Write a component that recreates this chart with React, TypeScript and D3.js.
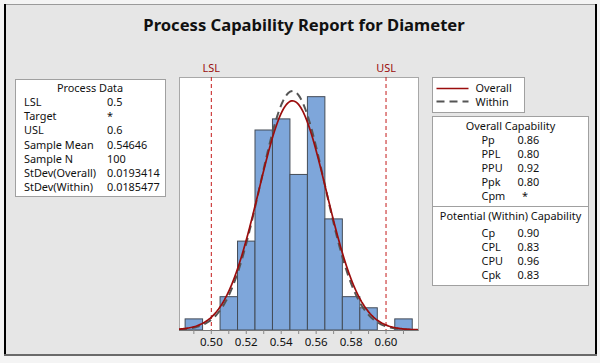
import React from 'react';
import * as d3 from 'd3';

// histogram of Diameter, bins of width 0.01
const binLow = [0.485, 0.505, 0.515, 0.525, 0.535, 0.545, 0.555, 0.565, 0.575, 0.585, 0.605];
const binCount = [1, 3, 8, 18, 19, 14, 21, 10, 3, 2, 1];
const xTicks = [0.5, 0.52, 0.54, 0.56, 0.58, 0.6];
const minorTicks = [0.49, 0.5, 0.51, 0.52, 0.53, 0.54, 0.55, 0.56, 0.57, 0.58, 0.59, 0.6, 0.61];

const lsl = 0.5;
const usl = 0.6;
const mean = 0.54646;
const sdOverall = 0.0193414;
const sdWithin = 0.0185477;
const sampleN = 100;
const binWidth = 0.01;

const processLabels = ['LSL', 'Target', 'USL', 'Sample Mean', 'Sample N', 'StDev(Overall)', 'StDev(Within)'];
const processValues = ['0.5', '*', '0.6', '0.54646', '100', '0.0193414', '0.0185477'];
const overallLabels = ['Pp', 'PPL', 'PPU', 'Ppk', 'Cpm'];
const overallValues = ['0.86', '0.80', '0.92', '0.80', '*'];
const withinLabels = ['Cp', 'CPL', 'CPU', 'Cpk'];
const withinValues = ['0.90', '0.83', '0.96', '0.83'];

const FONT = '"Noto Sans", "Open Sans", sans-serif';
const RED = '#9b0d0d';
const FS = 10.9;

export default function App() {
  const W = 600;
  const H = 363;
  const plot = { left: 179, right: 418, top: 77, bottom: 330 };

  const x = d3.scaleLinear().domain([0.4815, 0.6183]).range([plot.left, plot.right]);
  const y = d3.scaleLinear().domain([0, 22.77]).range([plot.bottom, plot.top]);

  // fitted normal curves scaled to counts per bin
  const pdf = (v: number, sd: number) =>
    (sampleN * binWidth * Math.exp(-0.5 * ((v - mean) / sd) ** 2)) / (sd * Math.sqrt(2 * Math.PI));
  const grid = d3.range(0, 201).map((i) => 0.4815 + (i / 200) * (0.6183 - 0.4815));
  const overallPath = d3
    .line<number>()
    .x((d) => x(d))
    .y((d) => y(pdf(d, sdOverall)))(grid) || '';
  const withinPath = d3
    .line<number>()
    .x((d) => x(d))
    .y((d) => y(pdf(d, sdWithin)))(grid) || '';

  const rowH = 14.2;

  return (
    <svg width={W} height={H} style={{ position: 'absolute', left: 0, top: 0 }} fontFamily={FONT}>
      <rect x={0} y={0} width={W} height={H} fill="#f4f4f4" />
      <rect x={4} y={4} width={593} height={351} fill="#e6e6e6" />
      <line x1={4} y1={4.5} x2={597} y2={4.5} stroke="#9a9a9a" />
      <line x1={5} y1={4} x2={5} y2={356} stroke="#000" strokeWidth={2} />
      <line x1={596} y1={4} x2={596} y2={356} stroke="#000" strokeWidth={2} />
      <line x1={4} y1={355} x2={597} y2={355} stroke="#6a6a6a" strokeWidth={2} />

      <text x={304} y={31} textAnchor="middle" fontSize={16.6} fontWeight="bold" fill="#111">
        Process Capability Report for Diameter
      </text>

      {/* Process data box */}
      <rect x={15.5} y={79.5} width={150} height={117} fill="#fff" stroke="#a0a0a0" />
      <text x={90} y={91.5} textAnchor="middle" fontSize={FS} fill="#111">Process Data</text>
      {processLabels.map((l, i) => (
        <g key={l} fontSize={FS} fill="#111">
          <text x={24} y={106 + i * rowH}>{l}</text>
          <text x={107} y={106 + i * rowH}>{processValues[i]}</text>
        </g>
      ))}

      {/* histogram plot */}
      <rect x={plot.left + 0.5} y={plot.top + 0.5} width={plot.right - plot.left} height={plot.bottom - plot.top} fill="#fff" stroke="#a8a8a8" />
      {binLow.map((b, i) => (
        <rect
          key={b}
          x={x(b)}
          y={y(binCount[i])}
          width={x(b + binWidth) - x(b)}
          height={y(0) - y(binCount[i])}
          fill="#7ea6da"
          stroke="#444c57"
          strokeWidth={1}
        />
      ))}
      {[lsl, usl].map((v) => (
        <line key={v} x1={x(v)} x2={x(v)} y1={plot.top} y2={plot.bottom} stroke="#c41a1a" strokeWidth={1} strokeDasharray="4,3" />
      ))}
      <text x={x(lsl)} y={plot.top - 5} textAnchor="middle" fontSize={FS} fill={RED}>LSL</text>
      <text x={x(usl)} y={plot.top - 5} textAnchor="middle" fontSize={FS} fill={RED}>USL</text>
      <path d={withinPath} fill="none" stroke="#555" strokeWidth={2} strokeDasharray="8,5" />
      <path d={overallPath} fill="none" stroke={RED} strokeWidth={1.7} />

      <line x1={plot.left} x2={plot.right + 0.5} y1={plot.bottom + 0.5} y2={plot.bottom + 0.5} stroke="#777" />
      {minorTicks.map((t) => (
        <line key={t} x1={x(t)} x2={x(t)} y1={plot.bottom} y2={plot.bottom + 4} stroke="#888" />
      ))}
      {xTicks.map((t) => (
        <text key={t} x={x(t)} y={346} textAnchor="middle" fontSize={11.5} fill="#111">
          {d3.format('.2f')(t)}
        </text>
      ))}

      {/* legend */}
      <rect x={432.5} y={77.5} width={92} height={35} fill="#fff" stroke="#a0a0a0" />
      <line x1={436.5} x2={468.5} y1={88.5} y2={88.5} stroke={RED} strokeWidth={1.7} />
      <text x={475.5} y={92} fontSize={FS} fill="#111">Overall</text>
      <line x1={436.5} x2={468.5} y1={101.5} y2={101.5} stroke="#555" strokeWidth={2} strokeDasharray="8,5" />
      <text x={475.5} y={105.5} fontSize={FS} fill="#111">Within</text>

      {/* capability box */}
      <rect x={432.5} y={116.5} width={156} height={169} fill="#fff" stroke="#a0a0a0" />
      <line x1={432.5} x2={588.5} y1={206.5} y2={206.5} stroke="#a0a0a0" />
      <text x={510.5} y={130} textAnchor="middle" fontSize={FS} fill="#111">Overall Capability</text>
      {overallLabels.map((l, i) => (
        <g key={l} fontSize={FS} fill="#111">
          <text x={481.5} y={144.3 + i * 14}>{l}</text>
          <text x={overallValues[i] === '*' ? 522 : 517.5} y={144.3 + i * 14}>{overallValues[i]}</text>
        </g>
      ))}
      <text x={510.5} y={220} textAnchor="middle" fontSize={FS} fill="#111">Potential (Within) Capability</text>
      {withinLabels.map((l, i) => (
        <g key={l} fontSize={FS} fill="#111">
          <text x={481.5} y={237.3 + i * 14}>{l}</text>
          <text x={517.5} y={237.3 + i * 14}>{withinValues[i]}</text>
        </g>
      ))}
    </svg>
  );
}
